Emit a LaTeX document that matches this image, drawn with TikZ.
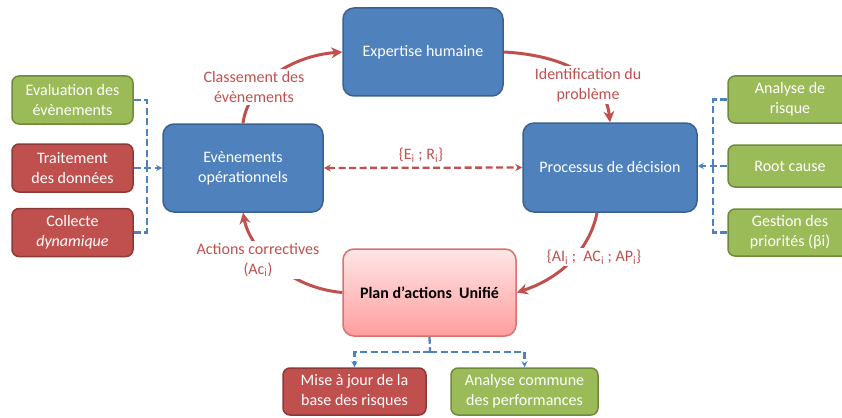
\documentclass[tikz,border=0pt]{standalone}
\usepackage{fontspec}
\setmainfont{Carlito}
\usetikzlibrary{arrows.meta}
\definecolor{bfill}{HTML}{4F81BD}
\definecolor{bdraw}{HTML}{3A6192}
\definecolor{gfill}{HTML}{9BBB59}
\definecolor{gdraw}{HTML}{6E8A3C}
\definecolor{rfill}{HTML}{C0504D}
\definecolor{rdraw}{HTML}{8C3836}
\definecolor{rline}{HTML}{C0504D}
\definecolor{ptop}{HTML}{FFE6E6}
\definecolor{pbot}{HTML}{FF9E9E}
\definecolor{pdraw}{HTML}{D9726F}
\begin{document}
\begin{tikzpicture}[x=1pt,y=-1pt,
  font=\fontsize{16}{20}\selectfont,
  box/.style={rounded corners=7pt, line width=1.5pt, text=white, align=center, inner sep=0pt},
  bluebox/.style={box, fill=bfill, draw=bdraw, rounded corners=11pt, minimum width=160pt, minimum height=88pt},
  greenbox/.style={box, fill=gfill, draw=gdraw},
  redbox/.style={box, fill=rfill, draw=rdraw},
  flow/.style={draw=rline, line width=3pt, -{Stealth[length=11pt,width=11pt]}},
  lab/.style={text=rline, fill=white, align=center, inner sep=2pt},
  feed/.style={draw=bfill, line width=2.3pt, dash pattern=on 7pt off 3.5pt},
  feedtip/.style={-{Stealth[length=6pt,width=6pt]}},
]
\useasboundingbox (0,0) rectangle (842,417);
\clip (0,0) rectangle (842,417);

% main process boxes
\node[bluebox] (exp) at (423,52) {Expertise humaine};
\node[bluebox] (ev) at (243,168) {Evènements\\opérationnels};
\node[bluebox, minimum width=174pt, minimum height=89pt] (proc) at (610,167.5) {Processus de décision};
\node[box, rounded corners=11pt, top color=ptop, bottom color=pbot, draw=pdraw, text=black,
      minimum width=173pt, minimum height=87pt, font=\fontsize{16}{20}\selectfont\bfseries]
      (plan) at (429.5,292.5) {Plan d’actions\ \ Unifié};

% input boxes on the left
\node[greenbox, minimum width=121pt, minimum height=48pt] (eval) at (72.5,100) {Evaluation des\\évènements};
\node[redbox, minimum width=121pt, minimum height=48pt] (trait) at (72.5,168) {Traitement\\des données};
\node[redbox, minimum width=121pt, minimum height=48pt] (coll) at (72.5,232.5) {Collecte\\\textit{dynamique}};

% input boxes on the right
\node[greenbox, minimum width=124pt, minimum height=47pt] (risk) at (790,99.5) {Analyse de\\risque};
\node[greenbox, minimum width=124pt, minimum height=42pt] (root) at (790,166) {Root cause};
\node[greenbox, minimum width=124pt, minimum height=47pt] (gest) at (790,232.5) {Gestion des\\priorités\ (βi)};

% output boxes at the bottom
\node[redbox, minimum width=143pt, minimum height=47pt] (maj) at (354.5,391.5) {Mise à jour de la\\base des risques};
\node[greenbox, minimum width=147pt, minimum height=47pt] (perf) at (524.5,391.5) {Analyse commune\\des performances};

% junction points of the dashed feeds
\coordinate (lj) at (147,168);
\coordinate (rj) at (713,167);
\coordinate (bj) at (430,352);

% dashed feeds on the left
\draw[feed] (eval.east) -| (lj);
\draw[feed] (coll.east) -| (lj);
\draw[feed, feedtip] (trait.east) -- (ev.west);

% dashed feeds on the right
\draw[feed] (risk.west) -| (rj);
\draw[feed] (gest.west) -| (rj);
\draw[feed, feedtip] (root.west) -- (root.west -| proc.east);

% dashed outputs at the bottom
\draw[feed] (plan.south) -- (bj);
\draw[feed, feedtip] (bj) -| (maj.north);
\draw[feed, feedtip] (bj) -| (perf.north);

% exchange between events and decision
\draw[draw=rline, line width=2.3pt, dash pattern=on 7pt off 3.5pt,
      {Stealth[length=7pt,width=7pt]}-{Stealth[length=7pt,width=7pt]}] (ev.east) -- (proc.west);
\node[text=rline, inner sep=1pt] (er) at (421,155) {\{E\textsubscript{i} ; R\textsubscript{i}\}};

% main cycle
\draw[flow] (ev.north) .. controls (248,85) and (290,56) .. (exp.west);
\draw[flow] (exp.east) .. controls (560,55) and (605,75) .. (proc.north);
\draw[flow] ([xshift=-13pt]proc.south) .. controls (592,240) and (570,275) .. (plan.east);
\draw[flow] (plan.west) .. controls (290,288) and (250,250) .. (ev.south);

% cycle labels
\node[lab] (l1) at (254,87) {Classement des\\évènements};
\node[lab] (l2) at (588,85) {Identification du\\problème};
\node[lab] (l3) at (594,257) {\{AI\textsubscript{i} ;\ \ AC\textsubscript{i} ; AP\textsubscript{i}\}};
\node[lab] (l4) at (258,260) {Actions correctives\\(Ac\textsubscript{i})};
\end{tikzpicture}
\end{document}
